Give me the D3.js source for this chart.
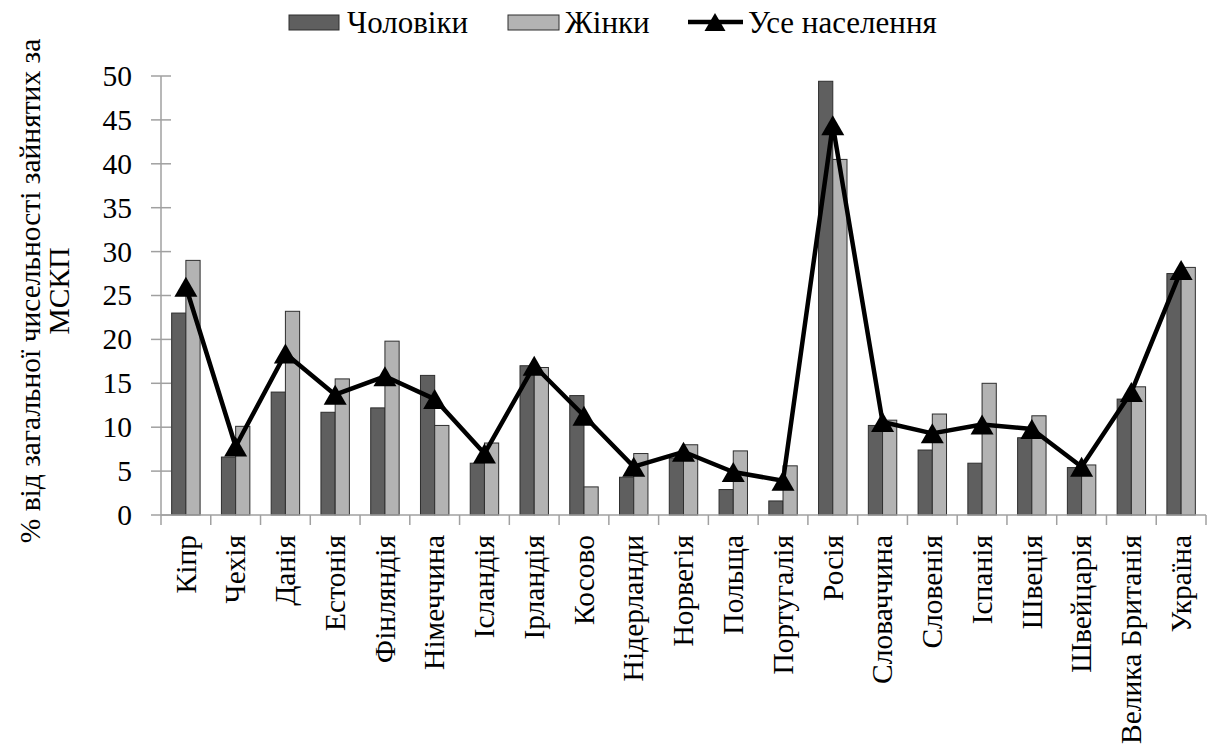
<!DOCTYPE html>
<html>
<head>
<meta charset="utf-8">
<script src="https://cdn.jsdelivr.net/npm/d3@7"></script>
</head>
<body style="margin:0">
<svg id="fig" width="1208" height="751"></svg>
<script>
const categories = ["Кіпр","Чехія","Данія","Естонія","Фінляндія","Німеччина","Ісландія","Ірландія","Косово","Нідерланди","Норвегія","Польща","Португалія","Росія","Словаччина","Словенія","Іспанія","Швеція","Швейцарія","Велика Британія","Україна"];
const men   = [23.0, 6.6, 14.0, 11.7, 12.2, 15.9, 5.9, 17.0, 13.6, 4.3, 6.5, 2.9, 1.6, 49.4, 10.2, 7.4, 5.9, 8.8, 5.4, 13.2, 27.5];
const women = [29.0, 10.1, 23.2, 15.5, 19.8, 10.2, 8.2, 16.8, 3.2, 7.0, 8.0, 7.3, 5.6, 40.5, 10.8, 11.5, 15.0, 11.3, 5.7, 14.6, 28.2];
const total = [26.0, 7.8, 18.4, 13.7, 15.8, 13.2, 7.0, 17.0, 11.3, 5.5, 7.2, 4.9, 3.9, 44.4, 10.6, 9.3, 10.3, 9.8, 5.5, 14.0, 27.9];
const yTicks = [0, 5, 10, 15, 20, 25, 30, 35, 40, 45, 50];
const seriesNames = ["Чоловіки", "Жінки", "Усе населення"];
const yTitleLines = ["% від загальної чисельності зайнятих за", "МСКП"];

const FONT = "Liberation Serif";
const svg = d3.select("#fig");
const pLeft = 161, pRight = 1206, pTop = 76, pBottom = 515;
const FS = 29.5;
const axisColor = "#a0a0a0";
const darkFill = "#5f5f5f", lightFill = "#b3b3b3", barStroke = "#2e2e2e";

const x = d3.scaleBand().domain(categories).range([pLeft, pRight]).padding(0);
const y = d3.scaleLinear().domain([0, 50]).range([pBottom, pTop]);
const bw = x.bandwidth() / 3.5;
const sub = d3.scaleBand().domain(["m", "w"]).range([0, 2 * bw]).padding(0);
const groupOffset = (x.bandwidth() - 2 * bw) / 2;

function setFont(sel, size) {
  return sel.style("font-family", FONT).style("font-size", size + "px");
}

// Y tick labels (from the axis generator)
const yAxis = svg.append("g").attr("transform", `translate(${pLeft},0)`)
  .call(d3.axisLeft(y).tickValues(yTicks).tickSize(0).tickPadding(29).tickFormat(d3.format("d")));
yAxis.select(".domain").remove();
yAxis.attr("font-family", null).attr("font-size", null);
setFont(yAxis.selectAll("text"), FS).attr("fill", "#000");
svg.append("g").selectAll("line").data(yTicks).join("line")
  .attr("x1", pLeft - 10).attr("x2", pLeft + 10)
  .attr("y1", d => y(d)).attr("y2", d => y(d))
  .attr("stroke", axisColor).attr("stroke-width", 1.5);

// Bars
const groups = svg.append("g").selectAll("g").data(categories).join("g")
  .attr("transform", d => `translate(${x(d) + groupOffset},0)`);
groups.append("rect")
  .attr("x", sub("m")).attr("width", bw)
  .attr("y", (d, i) => y(men[i])).attr("height", (d, i) => y(0) - y(men[i]))
  .attr("fill", darkFill).attr("stroke", barStroke).attr("stroke-width", 1);
groups.append("rect")
  .attr("x", sub("w")).attr("width", bw)
  .attr("y", (d, i) => y(women[i])).attr("height", (d, i) => y(0) - y(women[i]))
  .attr("fill", lightFill).attr("stroke", barStroke).attr("stroke-width", 1);

// Axis lines
svg.append("line").attr("x1", pLeft).attr("x2", pLeft).attr("y1", pTop).attr("y2", pBottom + 10)
  .attr("stroke", axisColor).attr("stroke-width", 1.5);
svg.append("line").attr("x1", pLeft).attr("x2", pRight).attr("y1", pBottom).attr("y2", pBottom)
  .attr("stroke", axisColor).attr("stroke-width", 1.5);
const bounds = categories.map(c => x(c) + x.bandwidth());
svg.append("g").selectAll("line").data(bounds).join("line")
  .attr("x1", d => d).attr("x2", d => d).attr("y1", pBottom).attr("y2", pBottom + 10)
  .attr("stroke", axisColor).attr("stroke-width", 1.5);

// Line series
const cx = (d) => x(d) + x.bandwidth() / 2;
const line = d3.line().x((d, i) => cx(categories[i])).y(d => y(d));
svg.append("path").datum(total).attr("d", line)
  .attr("fill", "none").attr("stroke", "#000").attr("stroke-width", 4.5).attr("stroke-linejoin", "round");
const tri = (w, h) => `M0,${-h/2}L${w/2},${h/2}L${-w/2},${h/2}Z`;
svg.append("g").selectAll("path").data(total).join("path")
  .attr("transform", (d, i) => `translate(${cx(categories[i])},${y(d)})`)
  .attr("d", tri(23, 20)).attr("fill", "#000");

// X labels
categories.forEach(c => {
  setFont(svg.append("text"), FS)
    .attr("transform", `translate(${cx(c)},535) rotate(-90)`)
    .attr("text-anchor", "end").attr("dy", "0.33em").attr("fill", "#000")
    .text(c);
});

// Y title
setFont(svg.append("text"), FS).attr("transform", "translate(31,291) rotate(-90)")
  .attr("text-anchor", "middle").attr("dy", "0.3em").attr("fill", "#000").text(yTitleLines[0]);
setFont(svg.append("text"), FS).attr("transform", "translate(60,291) rotate(-90)")
  .attr("text-anchor", "middle").attr("dy", "0.3em").attr("fill", "#000").text(yTitleLines[1]);

// Legend
const LFS = 31;
svg.append("rect").attr("x", 289).attr("y", 15).attr("width", 50).attr("height", 15)
  .attr("fill", darkFill).attr("stroke", barStroke).attr("stroke-width", 1);
setFont(svg.append("text"), LFS).attr("x", 347).attr("y", 33).attr("fill", "#000").text(seriesNames[0]);
svg.append("rect").attr("x", 508).attr("y", 15).attr("width", 51).attr("height", 15)
  .attr("fill", lightFill).attr("stroke", barStroke).attr("stroke-width", 1);
setFont(svg.append("text"), LFS).attr("x", 565).attr("y", 33).attr("fill", "#000").text(seriesNames[1]);
svg.append("line").attr("x1", 688).attr("x2", 743).attr("y1", 22).attr("y2", 22)
  .attr("stroke", "#000").attr("stroke-width", 4.5);
svg.append("path").attr("transform", "translate(715,22)").attr("d", tri(21, 18)).attr("fill", "#000");
setFont(svg.append("text"), LFS).attr("x", 748).attr("y", 33).attr("fill", "#000").text(seriesNames[2]);
</script>
</body>
</html>
